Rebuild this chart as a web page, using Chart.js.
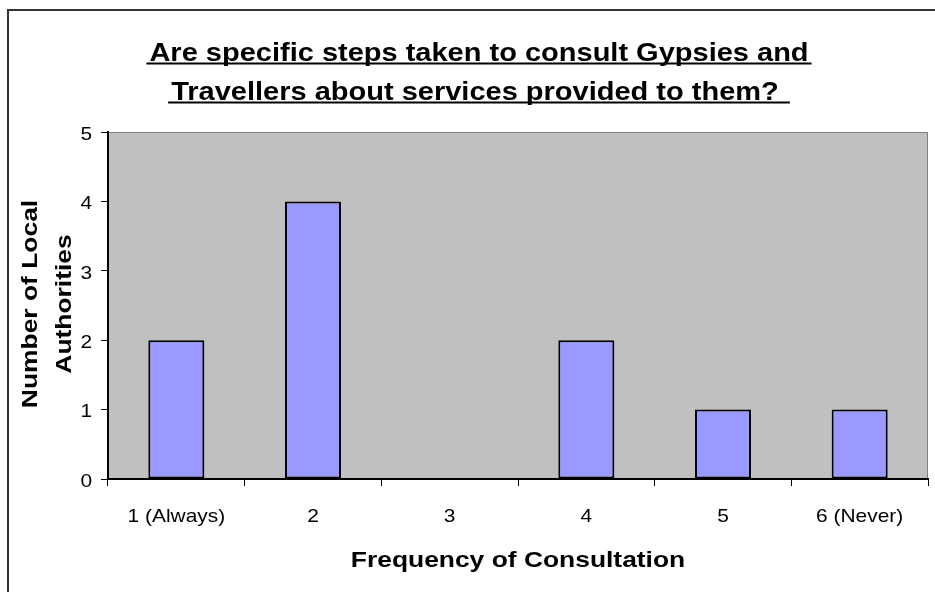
<!DOCTYPE html>
<html>
<head>
<meta charset="utf-8">
<script src="https://cdn.jsdelivr.net/npm/chart.js@4.4.1/dist/chart.umd.min.js"></script>
<style>
html,body{margin:0;padding:0;background:#fff;}
canvas{display:block;}
</style>
</head>
<body>
<canvas id="c" width="935" height="592" style="width:935px;height:592px"></canvas>
<script>
// ---- data ----
const categories = ['1 (Always)', '2', '3', '4', '5', '6 (Never)'];
const authorities = [2, 4, 0, 2, 1, 1];
const yTickValues = [0, 1, 2, 3, 4, 5];
const titleLines = ['Are specific steps taken to consult Gypsies and', 'Travellers about services provided to them? '];
const xTitle = 'Frequency of Consultation';
const yTitleLines = ['Number of Local', 'Authorities'];

const FONT = '"Liberation Sans", Arial, Helvetica, sans-serif';

function wideText(ctx, text, x, y, opts) {
  ctx.save();
  ctx.translate(x, y);
  if (opts.rotate) ctx.rotate(opts.rotate);
  ctx.scale(opts.sx || 1, 1);
  ctx.font = opts.font;
  ctx.fillStyle = opts.color || '#000';
  ctx.textAlign = opts.align || 'center';
  ctx.textBaseline = 'alphabetic';
  ctx.fillText(text, 0, 0);
  const w = ctx.measureText(text).width * (opts.sx || 1);
  ctx.restore();
  return w;
}

const decor = {
  id: 'decor',
  beforeDraw(chart) {
    const ctx = chart.ctx, a = chart.chartArea;
    ctx.save();
    ctx.fillStyle = '#fff';
    ctx.fillRect(0, 0, chart.width, chart.height);
    ctx.strokeStyle = '#333';
    ctx.lineWidth = 2;
    ctx.beginPath();
    ctx.moveTo(8, chart.height);
    ctx.lineTo(8, 10);
    ctx.lineTo(chart.width, 10);
    ctx.stroke();
    ctx.fillStyle = '#C0C0C0';
    ctx.fillRect(a.left, a.top, a.right - a.left, a.bottom - a.top);
    ctx.strokeStyle = '#808080';
    ctx.lineWidth = 1;
    ctx.strokeRect(a.left + 0.5, a.top + 0.5, a.right - a.left - 1, a.bottom - a.top);
    ctx.restore();
  },
  afterDraw(chart) {
    const ctx = chart.ctx, a = chart.chartArea;
    const xs = chart.scales.x, ys = chart.scales.y;
    const tBase = [61, 100];
    const tsx = 1.16;
    titleLines.forEach((t, i) => {
      const f = 'bold 25px ' + FONT;
      ctx.save();
      ctx.font = f;
      const w = ctx.measureText(t).width * tsx;
      ctx.restore();
      const cx = 479;
      wideText(ctx, t, cx, tBase[i], {font: f, sx: tsx});
      ctx.fillStyle = '#000';
      ctx.fillRect(cx - w / 2 - 3, tBase[i] + 1.5, w + 6, 2);
    });
    categories.forEach((c, i) => {
      wideText(ctx, c, xs.getPixelForTick(i), 522, {font: '19px ' + FONT, sx: 1.1});
    });
    yTickValues.forEach(v => {
      wideText(ctx, String(v), 92, ys.getPixelForValue(v) + 7.8, {font: '19px ' + FONT, sx: 1.1, align: 'right'});
    });
    wideText(ctx, xTitle, (a.left + a.right) / 2, 567, {font: 'bold 22px ' + FONT, sx: 1.2});
    const ymid = 304;
    wideText(ctx, yTitleLines[0], 37, ymid, {font: 'bold 22px ' + FONT, sx: 1.2, rotate: -Math.PI / 2});
    wideText(ctx, yTitleLines[1], 71, ymid, {font: 'bold 22px ' + FONT, sx: 1.2, rotate: -Math.PI / 2});
  }
};

new Chart(document.getElementById('c'), {
  type: 'bar',
  data: {
    labels: categories,
    datasets: [{
      data: authorities,
      backgroundColor: '#9999FF',
      borderColor: '#000000',
      borderWidth: 2,
      borderSkipped: false,
      barPercentage: 0.41,
      categoryPercentage: 1.0
    }]
  },
  options: {
    responsive: false,
    animation: false,
    devicePixelRatio: 1,
    layout: {padding: {top: 132, right: 7, left: 0, bottom: 0}},
    plugins: {legend: {display: false}, title: {display: false}, tooltip: {enabled: false}},
    scales: {
      x: {
        type: 'category',
        offset: true,
        grid: {offset: true, drawOnChartArea: false, drawTicks: true, tickLength: 7, color: '#000', lineWidth: 1},
        border: {display: true, color: '#000', width: 2},
        ticks: {display: false},
        afterFit(s) { s.height = 113; }
      },
      y: {
        min: 0, max: 5,
        ticks: {display: false, stepSize: 1},
        grid: {drawOnChartArea: false, drawTicks: true, tickLength: 7, color: '#000', lineWidth: 1},
        border: {display: true, color: '#000', width: 2},
        afterFit(s) { s.width = 108; }
      }
    }
  },
  plugins: [decor]
});
</script>
</body>
</html>
